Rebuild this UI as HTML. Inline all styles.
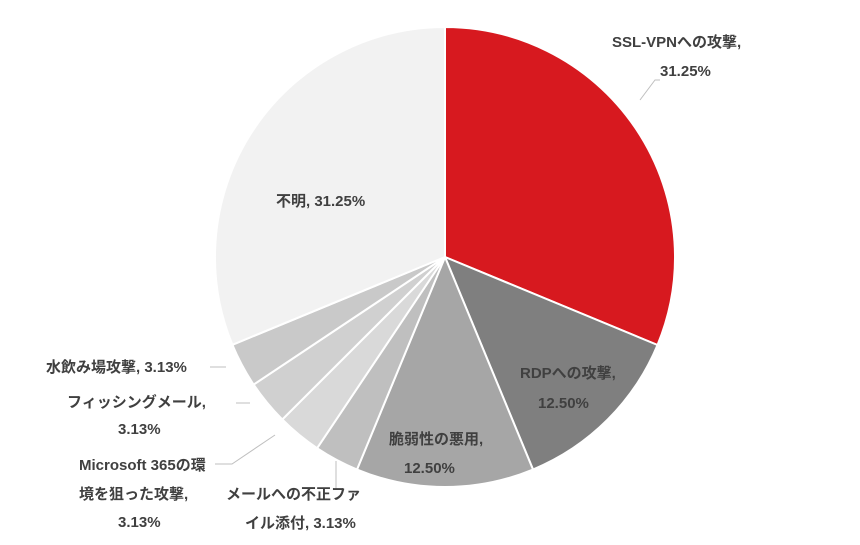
<!DOCTYPE html><html><head><meta charset="utf-8"><style>body{margin:0;background:#fff}svg{display:block}text{font-family:"Liberation Sans","Noto Sans CJK JP",sans-serif;font-size:15px;fill:#404040;font-weight:bold}</style></head><body>
<svg width="860" height="545" viewBox="0 0 860 545">
<g stroke="#fff" stroke-width="2">
<path d="M445,257 L445,27 A230,230 0 0 1 657.5,345 Z" fill="#d7191f"/>
<path d="M445,257 L657.5,345 A230,230 0 0 1 533,469.5 Z" fill="#7f7f7f"/>
<path d="M445,257 L533,469.5 A230,230 0 0 1 357,469.5 Z" fill="#a6a6a6"/>
<path d="M445,257 L357,469.5 A230,230 0 0 1 317.1,448.2 Z" fill="#bfbfbf"/>
<path d="M445,257 L317.1,448.2 A230,230 0 0 1 282.3,419.5 Z" fill="#d9d9d9"/>
<path d="M445,257 L282.3,419.5 A230,230 0 0 1 253.6,384.6 Z" fill="#d0d0d0"/>
<path d="M445,257 L253.6,384.6 A230,230 0 0 1 232.4,344.8 Z" fill="#c9c9c9"/>
<path d="M445,257 L232.4,344.8 A230,230 0 0 1 445,27 Z" fill="#f2f2f2"/>
</g>
<g stroke="#bfbfbf" stroke-width="1" fill="none">
<polyline points="640,100 655,80 660,80"/>
<polyline points="226,367 210,367"/>
<polyline points="250,403 236,403"/>
<polyline points="275,435 232,464 215,464"/>
<polyline points="336,461 336,490"/>
</g>
<text x="612" y="47">SSL-VPNへの攻撃,</text>
<text x="660" y="76">31.25%</text>
<text x="276" y="206">不明, 31.25%</text>
<text x="520" y="378">RDPへの攻撃,</text>
<text x="538" y="408">12.50%</text>
<text x="389" y="444">脆弱性の悪用,</text>
<text x="404" y="473">12.50%</text>
<text x="46" y="372">水飲み場攻撃, 3.13%</text>
<text x="67" y="407">フィッシングメール,</text>
<text x="118" y="434">3.13%</text>
<text x="79" y="470">Microsoft 365の環</text>
<text x="79" y="499">境を狙った攻撃,</text>
<text x="118" y="527">3.13%</text>
<text x="226" y="499">メールへの不正ファ</text>
<text x="245" y="528">イル添付, 3.13%</text>
</svg></body></html>
